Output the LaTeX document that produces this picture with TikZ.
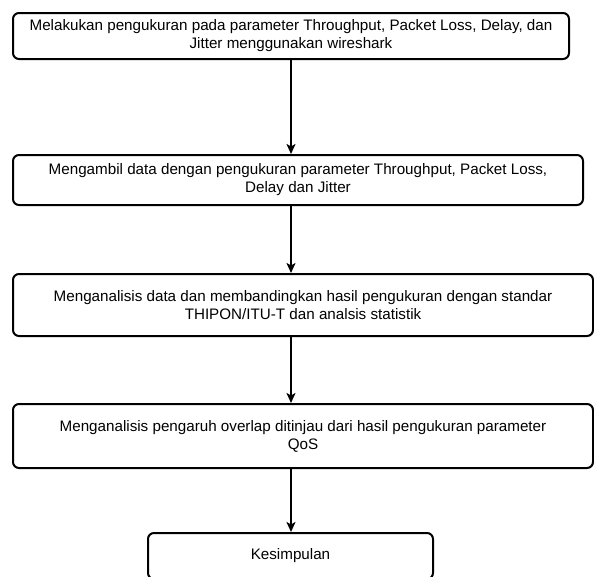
\documentclass[tikz,border=0pt]{standalone}
\usepackage{fontspec}
\setmainfont{Liberation Sans}
\usetikzlibrary{arrows.meta,positioning,calc}

\begin{document}
\begin{tikzpicture}[x=1pt,y=-1pt,>={Stealth[length=10pt,width=9pt,inset=2.5pt]}]
    \tikzset{stage/.style={draw=black,line width=2pt,rounded corners=6pt,align=center,font=\fontsize{15.2}{18}\selectfont,inner sep=0pt}, arrow/.style={->,line width=2pt,black}}
    \useasboundingbox (0,0) rectangle (594,576);
    \node[stage,minimum width=556pt,minimum height=46pt] (ukur) at (291,36) {Melakukan pengukuran pada parameter Throughput, Packet Loss, Delay, dan\\Jitter menggunakan wireshark};
    \node[stage,minimum width=570pt,minimum height=50pt] (ambil) at (298,180) {Mengambil data dengan pengukuran parameter Throughput, Packet Loss,\\Delay dan Jitter};
    \node[stage,minimum width=580pt,minimum height=62pt] (analisis) at (303,305) {Menganalisis data dan membandingkan hasil pengukuran dengan standar\\THIPON/ITU-T dan analsis statistik};
    \node[stage,minimum width=580pt,minimum height=64pt] (overlap) at (303,436) {Menganalisis pengaruh overlap ditinjau dari hasil pengukuran parameter\\QoS};
    \node[stage,minimum width=285pt,minimum height=46pt] (simpul) at (290.5,556) {Kesimpulan};
    \draw[arrow] (ukur.south) -- (ambil.north -| ukur.south);
    \draw[arrow] (ambil.south -| ukur.south) -- (analisis.north -| ukur.south);
    \draw[arrow] (analisis.south -| ukur.south) -- (overlap.north -| ukur.south);
    \draw[arrow] (overlap.south -| ukur.south) -- (simpul.north -| ukur.south);
  \end{tikzpicture}
\end{document}
